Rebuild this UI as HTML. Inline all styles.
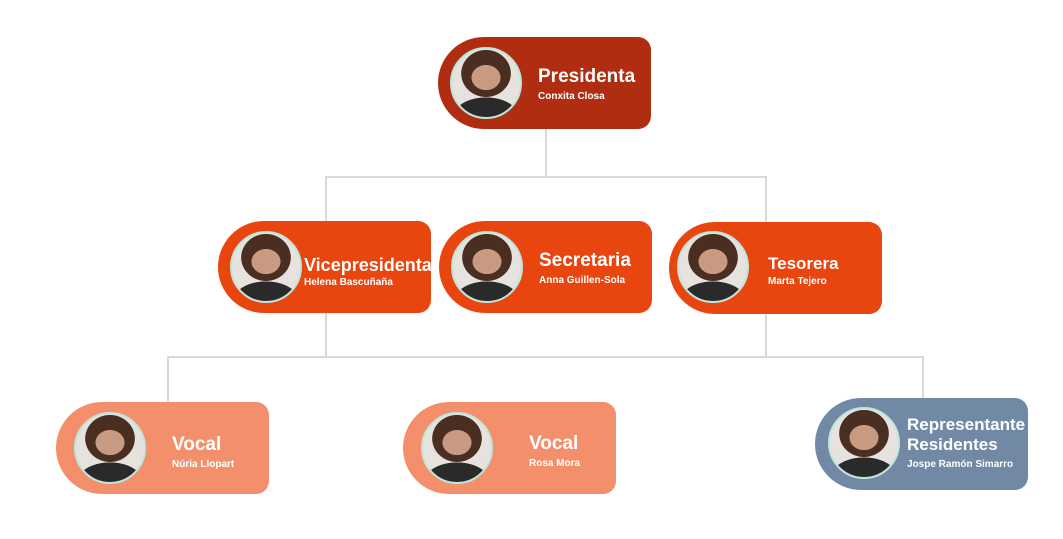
<!DOCTYPE html>
<html><head><meta charset="utf-8"><style>
body{margin:0;width:1063px;height:539px;background:#fff;position:relative;overflow:hidden;font-family:"Liberation Sans",sans-serif}
.b{position:absolute;width:213px;height:92px;border-radius:46px 13px 13px 46px;color:#fff}
.p{position:absolute;width:72px;height:72px;border-radius:50%;border:2px solid #bfe6dc;background:radial-gradient(ellipse 30% 26% at 50% 42%,#c99a82 0 70%,transparent 72%),radial-gradient(ellipse 38% 36% at 50% 36%,#4a2e22 0 95%,transparent 97%),radial-gradient(ellipse 50% 30% at 50% 100%,#2a2a2a 0 95%,transparent 97%),#e6e2dd;box-sizing:border-box;overflow:hidden}
.t{position:absolute;font-weight:bold;font-size:19px;white-space:nowrap;line-height:20px}
.s{position:absolute;font-weight:bold;font-size:10px;white-space:nowrap}
.l{position:absolute;background:#d9d9d9}
</style></head><body>
<div class="l" style="left:545px;top:129px;width:2px;height:49px"></div>
<div class="l" style="left:325px;top:176px;width:442px;height:2px"></div>
<div class="l" style="left:325px;top:176px;width:2px;height:46px"></div>
<div class="l" style="left:765px;top:176px;width:2px;height:46px"></div>
<div class="l" style="left:325px;top:312px;width:2px;height:46px"></div>
<div class="l" style="left:765px;top:312px;width:2px;height:46px"></div>
<div class="l" style="left:167px;top:356px;width:757px;height:2px"></div>
<div class="l" style="left:167px;top:356px;width:2px;height:47px"></div>
<div class="l" style="left:922px;top:356px;width:2px;height:43px"></div>

<div class="b" style="left:438px;top:37px;background:#b02d12"><div class="p" style="left:12px;top:10px"></div><div class="t" style="left:100px;top:30px">Presidenta</div><div class="s" style="left:100px;top:54px">Conxita Closa</div></div>
<div class="b" style="left:218px;top:221px;background:#e8450f"><div class="p" style="left:12px;top:10px"></div><div class="t" style="left:86px;top:34px;font-size:18px">Vicepresidenta</div><div class="s" style="left:86px;top:56px">Helena Bascuñaña</div></div>
<div class="b" style="left:439px;top:221px;background:#e8450f"><div class="p" style="left:12px;top:10px"></div><div class="t" style="left:100px;top:30px">Secretaria</div><div class="s" style="left:100px;top:54px">Anna Guillen-Sola</div></div>
<div class="b" style="left:669px;top:222px;background:#e8450f"><div class="p" style="left:8px;top:9px"></div><div class="t" style="left:99px;top:32px;font-size:17px">Tesorera</div><div class="s" style="left:99px;top:54px">Marta Tejero</div></div>
<div class="b" style="left:56px;top:402px;background:#f48f6b"><div class="p" style="left:18px;top:10px"></div><div class="t" style="left:116px;top:33px">Vocal</div><div class="s" style="left:116px;top:57px">Núria Llopart</div></div>
<div class="b" style="left:403px;top:402px;background:#f48f6b"><div class="p" style="left:18px;top:10px"></div><div class="t" style="left:126px;top:32px">Vocal</div><div class="s" style="left:126px;top:56px">Rosa Mora</div></div>
<div class="b" style="left:815px;top:398px;background:#7289a6"><div class="p" style="left:13px;top:9px"></div><div class="t" style="left:92px;top:17px;font-size:17px">Representante<br>Residentes</div><div class="s" style="left:92px;top:61px">Jospe Ramón Simarro</div></div>
</body></html>
